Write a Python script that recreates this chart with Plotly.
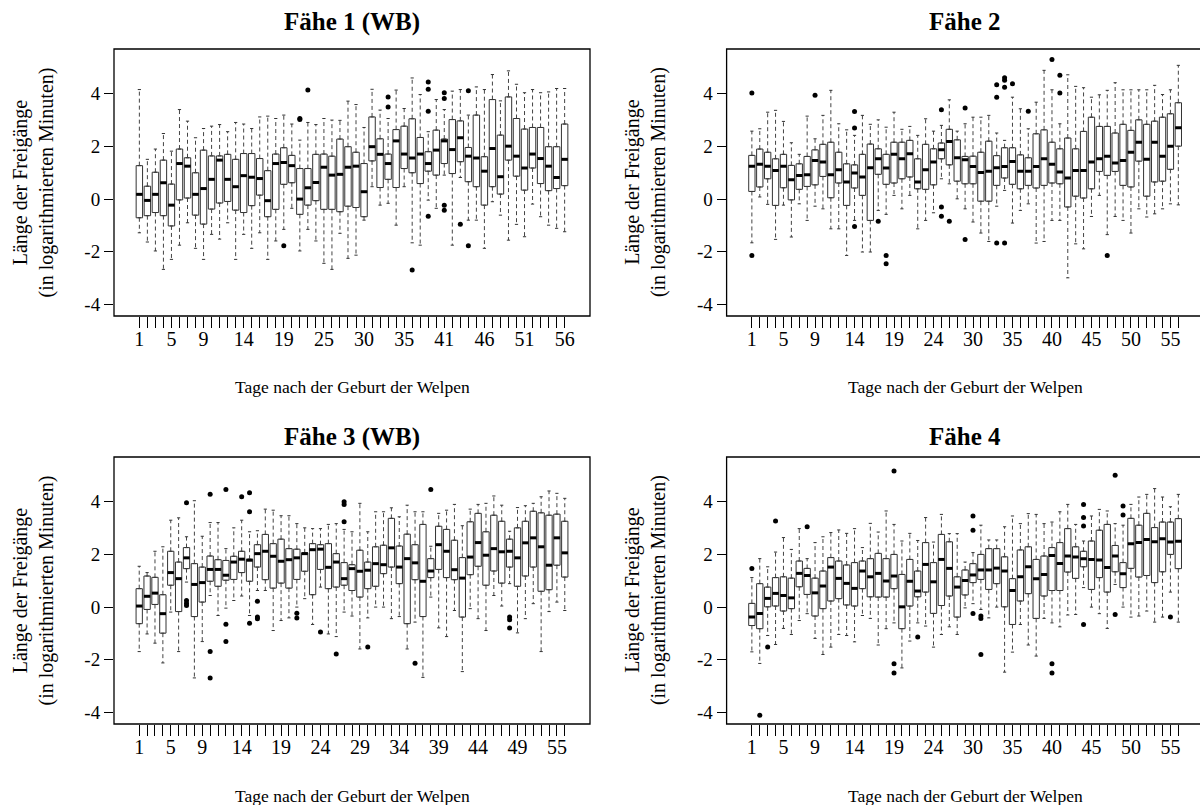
import plotly.graph_objects as go

FONT = "Liberation Serif"

# ---------------- Panel 1: Fähe 1 (WB) ----------------
p1_days = [1, 2, 3, 4, 5, 6, 7, 8, 9, 10, 11, 12, 13, 14, 15, 16, 17, 18, 19, 20, 21, 23, 24, 25, 26, 27, 28,
           29, 30, 31, 32, 33, 34, 35, 36, 37, 39, 40, 41, 42, 43, 44, 45, 46, 47, 48, 49, 50, 51, 52, 53, 54, 55, 56]
p1_hi = [4.16, 1.51, 1.90, 2.49, 1.82, 3.40, 2.96, 2.33, 2.68, 2.77, 2.83, 2.56, 2.91, 2.85, 2.68, 3.12, 3.15, 3.06,
         3.19, 2.85, 2.24, 2.91, 2.83, 3.06, 3.00, 2.99, 3.72, 3.59, 2.72, 4.17, 3.38, 3.06, 4.14, 3.44, 4.60, 3.97,
         2.56, 3.78, 3.40, 4.10, 4.16, 3.19, 4.26, 4.16, 4.73, 3.73, 4.87, 4.36, 4.04, 4.16, 4.04, 4.07, 4.20, 4.20]
p1_q3 = [1.27, 0.49, 1.02, 1.48, 0.57, 1.90, 1.57, 1.00, 1.86, 1.64, 1.64, 1.70, 1.51, 1.73, 1.73, 1.54, 1.08, 1.71,
         1.95, 1.66, 1.16, 1.16, 1.70, 1.71, 1.63, 2.28, 1.99, 1.78, 1.35, 3.12, 2.29, 1.71, 2.64, 2.77, 3.05, 2.34,
         1.80, 2.62, 2.28, 3.02, 2.97, 1.96, 3.19, 1.61, 3.78, 2.43, 3.88, 3.06, 2.66, 2.72, 2.72, 1.99, 1.99, 2.85]
p1_med = [0.18, -0.05, 0.18, 0.62, -0.23, 1.35, 1.25, 0.18, 0.40, 0.75, 1.48, 0.75, 0.47, 0.89, 0.83, 0.78, -0.06, 1.35,
          1.39, 1.27, 0.00, 0.43, 0.63, 1.21, 0.91, 0.94, 1.21, 1.25, 0.28, 1.99, 1.70, 1.35, 2.21, 1.71, 1.56, 1.71,
          1.35, 1.86, 2.21, 1.88, 2.33, 1.63, 1.56, 1.06, 1.92, 0.85, 2.01, 1.63, 1.18, 1.71, 1.54, 1.25, 0.82, 1.51]
p1_q1 = [-0.71, -0.63, -0.51, -0.63, -1.02, -0.03, 0.04, -0.61, -0.95, -0.38, -0.15, -0.09, -0.42, -0.51, -0.25, 0.15,
         -0.67, -0.39, 0.56, 0.62, -0.58, -0.23, -0.06, -0.39, -0.39, -0.48, -0.27, -0.32, -0.67, 1.45, 0.44, 0.75,
         0.44, 1.16, 1.00, 0.59, 1.06, 0.91, 1.35, 0.97, 1.42, 0.66, 0.47, -0.23, 0.47, 0.19, 1.48, 0.87, 0.34, 1.18,
         0.59, 0.32, 0.40, 0.51]
p1_lo = [-1.28, -1.63, -1.97, -2.67, -2.29, -1.75, -0.90, -1.87, -2.29, -1.34, -1.52, -0.90, -2.29, -1.34, -1.87,
         -1.28, -2.29, -1.59, -1.15, -0.35, -1.97, -1.15, -1.59, -2.44, -2.67, -1.30, -2.25, -2.13, -0.80, 0.47, -0.23,
         -0.16, -0.99, 0.47, -1.66, -1.75, -0.04, -0.35, 0.91, -1.75, 0.82, -0.80, -0.80, -1.87, -0.10, -0.61, -1.56,
         -0.96, -1.43, -0.19, -0.67, -0.99, -1.11, -1.24]
p1_out_box = [19, 21, 21, 22, 32, 32, 35, 37, 37, 37, 37, 39, 39, 39, 39, 41, 42, 42]
p1_out_val = [-1.77, 3.06, 3.02, 4.14, 3.88, 3.50, -2.69, 4.45, 4.17, 3.34, -0.65, 4.04, 3.82, -0.23, -0.42, -0.96,
              4.11, -1.77]

# ---------------- Panel 2: Fähe 2 ----------------
p2_days = [1, 2, 3, 4, 5, 6, 7, 8, 9, 10, 11, 12, 13, 14, 15, 16, 17, 18, 19, 20, 21, 22, 23, 24, 25, 26, 28, 29,
           30, 31, 32, 33, 34, 35, 36, 37, 38, 39, 40, 41, 42, 43, 44, 45, 46, 47, 48, 49, 50, 51, 52, 53, 54, 55, 56]
p2_hi = [2.58, 2.67, 3.30, 3.37, 2.95, 2.14, 1.70, 3.15, 2.29, 3.18, 4.13, 2.86, 2.63, 2.42, 3.18, 2.84, 3.01, 2.73,
         3.30, 2.65, 2.76, 2.42, 3.05, 2.58, 2.80, 3.77, 2.58, 2.86, 3.11, 3.11, 3.18, 2.51, 2.23, 3.87, 3.43, 2.67,
         3.68, 4.89, 4.15, 2.86, 4.72, 4.28, 4.23, 3.87, 3.96, 4.13, 4.42, 4.15, 4.15, 4.15, 4.15, 4.32, 3.97, 4.15,
         5.08]
p2_q3 = [1.66, 1.90, 1.78, 1.53, 1.70, 1.28, 1.34, 1.62, 1.87, 2.08, 2.16, 1.78, 1.34, 1.30, 1.70, 2.09, 1.91, 1.70,
         2.16, 2.16, 2.23, 1.53, 2.08, 1.91, 2.13, 2.65, 2.25, 1.62, 1.63, 1.78, 2.20, 1.65, 1.95, 1.95, 1.68, 1.57,
         2.48, 2.63, 2.16, 1.91, 2.32, 1.91, 2.57, 3.11, 2.76, 2.76, 2.51, 2.84, 2.61, 3.01, 2.84, 2.96, 3.11, 3.24,
         3.66]
p2_med = [1.25, 1.32, 1.25, 1.09, 1.25, 0.73, 0.90, 0.92, 1.47, 1.41, 0.92, 1.11, 0.65, 0.99, 0.84, 1.19, 1.53, 1.18,
          1.70, 1.53, 1.72, 0.65, 1.11, 1.41, 1.87, 2.19, 1.57, 1.49, 1.24, 1.01, 1.06, 1.19, 1.24, 1.43, 1.06, 1.06,
          1.24, 1.53, 1.32, 1.03, 0.80, 1.09, 1.09, 1.41, 1.53, 1.63, 1.37, 1.47, 1.78, 2.16, 1.51, 2.16, 1.63, 2.01,
          2.71]
p2_q1 = [0.29, 0.46, 0.77, -0.24, 0.43, -0.03, 0.37, 0.48, 0.54, 0.86, 0.05, 0.61, -0.24, 0.42, 0.14, -0.81, 0.94,
         0.56, 0.61, 0.77, 0.84, 0.39, 0.37, 0.54, 1.53, 1.30, 0.68, 0.58, 0.58, -0.08, -0.08, 0.52, 0.80, 0.56, 0.39,
         0.52, 0.42, 0.52, 0.61, 0.58, -0.30, 0.11, 0.04, 0.39, 1.05, 0.90, 1.05, 0.52, 0.46, 1.44, 0.11, 0.65, 0.68,
         1.13, 2.01]
p2_lo = [-1.66, 0.08, -0.20, -1.53, -0.23, -1.44, -0.18, -0.81, -0.27, -0.37, -1.13, -1.13, -2.14, -0.81, -2.01,
         -2.01, -0.43, -0.58, 0.14, -0.37, 0.14, -1.13, -0.81, -0.52, 0.77, 0.58, 0.01, -0.37, -0.87, -1.29, -1.61,
         -0.27, 0.33, -0.91, -0.43, -0.18, -1.67, -1.61, -0.81, -0.81, -2.99, -1.70, -1.89, -0.66, 0.14, -1.35, -0.66,
         -0.81, -1.29, -0.37, -0.68, -0.56, -0.37, -0.18, -0.22]
p2_out_box = [1, 1, 9, 14, 14, 14, 17, 18, 18, 25, 25, 25, 26, 28, 28, 32, 32, 32, 33, 33, 33, 33, 34, 36, 39, 40, 40,
              46]
p2_out_val = [4.03, -2.14, 3.94, 3.33, 2.70, -1.04, -0.84, -2.14, -2.46, 3.39, -0.30, -0.65, -0.84, 3.46, -1.53, 4.34,
              3.87, -1.67, 4.61, 4.51, 4.25, -1.67, 4.38, 3.34, 5.30, 4.70, 4.03, -2.14]

# ---------------- Panel 3: Fähe 3 (WB) ----------------
p3_days = [1, 2, 3, 4, 5, 6, 7, 8, 9, 10, 11, 12, 13, 14, 15, 16, 17, 18, 19, 20, 21, 22, 23, 24, 25, 26, 27, 28,
           29, 30, 31, 32, 33, 34, 35, 36, 37, 38, 39, 40, 41, 42, 43, 44, 45, 46, 47, 48, 49, 50, 51, 53, 54, 55, 56]
p3_hi = [1.55, 1.31, 2.12, 2.29, 3.30, 3.39, 2.67, 4.04, 2.69, 3.21, 3.21, 2.22, 3.01, 3.30, 2.86, 2.90, 3.72, 3.68,
         3.47, 3.47, 3.17, 3.01, 2.98, 2.98, 3.14, 3.17, 2.95, 2.86, 3.94, 2.86, 3.62, 3.62, 3.77, 3.43, 3.87, 3.62,
         3.62, 2.31, 3.56, 3.68, 3.90, 3.09, 3.72, 3.90, 3.94, 4.22, 3.87, 2.88, 3.78, 3.85, 3.94, 4.19, 4.41, 4.32,
         4.13]
p3_q3 = [0.70, 1.18, 1.13, 0.47, 2.12, 1.71, 2.26, 1.65, 1.52, 1.94, 1.80, 1.77, 1.93, 2.12, 1.82, 2.37, 2.76, 2.41,
         2.58, 2.22, 2.20, 2.06, 2.41, 2.37, 2.41, 2.03, 1.69, 1.61, 2.16, 1.71, 2.29, 2.35, 3.37, 2.32, 2.77, 2.37,
         3.14, 1.84, 3.07, 2.95, 2.54, 1.88, 3.24, 3.56, 2.86, 3.49, 3.26, 2.58, 3.01, 3.26, 3.64, 3.58, 3.49, 3.53,
         3.26]
p3_med = [0.04, 0.41, 0.53, -0.25, 1.31, 1.08, 1.87, 0.86, 0.93, 1.43, 1.43, 1.21, 1.71, 1.82, 1.78, 2.03, 2.12, 1.93,
          1.74, 1.80, 1.87, 2.03, 2.18, 2.20, 1.51, 1.71, 1.08, 1.46, 1.36, 1.40, 1.65, 1.61, 2.25, 1.52, 1.84, 1.68,
          0.98, 1.37, 2.37, 2.12, 1.42, 1.10, 1.90, 2.45, 1.97, 2.22, 2.10, 2.12, 1.87, 2.44, 2.63, 2.29, 1.59, 2.63,
          2.06]
p3_q1 = [-0.63, -0.09, 0.10, -0.99, 0.83, -0.17, 1.46, -0.36, 0.19, 0.98, 0.79, 1.02, 1.05, 1.31, 0.98, 1.52, 1.04,
         0.72, 0.91, 0.72, 1.05, 1.36, 0.47, 1.43, 0.70, 0.76, 0.83, 0.63, 0.38, 0.70, 0.79, 1.27, 1.52, 0.89, -0.63,
         1.04, -0.36, 1.12, 1.43, 1.12, 1.04, -0.38, 1.23, 1.55, 0.83, 1.37, 0.91, 1.52, 0.79, 1.18, 1.52, 0.60, 0.66,
         1.59, 1.14]
p3_lo = [-1.69, -1.02, -1.37, -2.12, -0.19, -1.69, 0.95, -2.69, -1.31, 0.44, -0.32, -0.04, 0.25, 0.42, -0.32, 0.63,
         0.63, -0.89, -0.51, -0.41, 0.00, 0.32, -0.66, 0.76, -1.02, -1.12, -0.19, -0.34, -1.59, -0.41, 0.00, 0.00,
         -0.44, -0.36, -1.59, -0.57, -2.67, 0.38, -0.79, -1.12, -0.13, -2.45, -0.06, -0.44, -0.89, 0.44, 0.04, 0.89,
         -0.98, -0.44, 0.13, -1.69, -0.17, 0.19, -0.13]
p3_out_box = [7, 7, 7, 7, 10, 10, 10, 12, 12, 12, 14, 15, 15, 15, 16, 16, 16, 21, 21, 24, 26, 27, 27, 27, 30, 36, 38,
              48, 48, 48]
p3_out_val = [3.96, 0.25, 0.15, 0.06, 4.29, -1.69, -2.69, 4.47, -0.65, -1.31, 4.19, 4.34, 3.62, -0.61, 0.22, -0.38,
              -0.44, -0.23, -0.41, -0.95, -1.78, 4.00, 3.90, 3.24, -1.52, -2.13, 4.47, -0.38, -0.48, -0.79]

# ---------------- Panel 4: Fähe 4 ----------------
p4_days = [1, 2, 3, 4, 5, 6, 7, 8, 9, 10, 11, 12, 13, 14, 15, 16, 17, 18, 19, 20, 21, 22, 23, 24, 25, 26, 28, 29,
           30, 31, 32, 33, 34, 35, 36, 37, 38, 39, 40, 41, 42, 43, 44, 45, 46, 47, 48, 49, 50, 51, 52, 53, 54, 55, 56]
p4_hi = [1.12, 1.84, 1.53, 2.09, 2.64, 2.19, 2.98, 1.84, 2.45, 2.67, 2.83, 2.93, 2.80, 2.98, 2.26, 3.18, 2.85, 3.65,
         3.14, 2.51, 2.80, 2.53, 3.40, 2.47, 3.52, 2.79, 2.79, 1.71, 2.07, 3.11, 2.55, 2.55, 3.05, 3.46, 3.17, 3.55,
         3.52, 3.17, 3.23, 3.62, 3.90, 3.14, 2.51, 3.46, 3.71, 3.65, 3.17, 3.11, 3.90, 4.18, 4.28, 4.50, 4.18, 3.81,
         4.28]
p4_q3 = [0.14, 0.89, 0.76, 1.12, 1.15, 1.10, 1.75, 1.47, 1.10, 1.37, 1.88, 1.75, 1.60, 1.69, 1.75, 1.84, 2.04, 1.84,
         2.00, 1.24, 1.81, 1.37, 2.45, 1.69, 2.76, 2.48, 1.15, 1.41, 1.65, 2.00, 2.22, 2.22, 1.91, 1.08, 2.17, 2.29,
         1.81, 1.94, 2.26, 2.45, 2.98, 2.29, 2.12, 2.51, 2.92, 3.14, 2.34, 1.69, 3.37, 3.11, 3.56, 3.02, 3.23, 3.23,
         3.36]
p4_med = [-0.38, -0.24, 0.33, 0.52, 0.44, 0.35, 1.28, 1.20, 0.54, 0.80, 1.52, 1.09, 0.90, 0.71, 1.37, 1.15, 1.28, 0.99,
          1.18, 0.01, 0.98, 0.61, 1.62, 0.96, 1.81, 1.47, 0.76, 1.01, 1.22, 1.41, 1.41, 1.48, 1.37, 0.63, 1.15, 1.53,
          1.08, 1.24, 1.96, 1.66, 1.94, 1.90, 1.84, 1.81, 1.79, 1.50, 1.94, 1.27, 2.41, 2.45, 2.57, 2.48, 2.60, 2.47,
          2.50]
p4_q1 = [-0.70, -0.82, 0.01, 0.04, -0.15, -0.06, 0.77, 0.48, -0.34, -0.06, 0.23, 0.32, 0.08, 0.04, 0.70, 0.39, 0.38,
         0.38, 0.70, -0.82, 0.04, 0.39, 0.57, -0.24, 0.06, 0.42, -0.38, 0.46, 0.93, 1.05, 0.67, 0.89, 0.01, -0.66,
         0.23, 0.51, -0.43, 0.42, 0.63, 0.63, 1.33, 1.09, 1.53, 0.67, 1.12, 0.57, 1.34, 0.74, 1.47, 1.14, 1.20, 0.93,
         1.34, 2.00, 1.46]
p4_lo = [-1.70, -2.14, -1.08, -1.42, -0.81, -1.04, -0.51, -0.25, -1.19, -1.80, -1.52, -1.04, -1.08, -1.32, -0.32,
         -0.43, -1.44, -0.82, -0.60, -2.31, -1.29, -0.60, -0.72, -1.52, -1.04, -0.75, -1.04, -0.03, 0.13, -0.09, -0.41,
         0.00, -2.47, -1.71, -0.66, -1.44, -1.86, -0.43, -0.60, -0.75, -0.30, -0.28, 0.74, 0.00, -0.25, -0.81, 0.86,
         0.00, -0.38, -0.34, -0.15, -0.57, -0.38, 0.57, -0.57]
p4_out_box = [1, 2, 3, 4, 8, 19, 19, 19, 22, 29, 29, 29, 30, 30, 30, 39, 39, 43, 43, 43, 43, 47, 47, 48, 48, 54]
p4_out_val = [1.47, -4.11, -1.52, 3.27, 3.05, 5.17, -2.15, -2.50, -1.14, 3.46, 2.92, -0.24, -0.34, -0.43, -1.80,
              -2.15, -2.50, 3.90, 3.40, 3.08, -0.66, 5.01, -0.28, 3.84, 3.50, -0.38]

titles = ["Fähe 1 (WB)", "Fähe 2", "Fähe 3 (WB)", "Fähe 4"]
label_every = [1, 5, 9, 14, 19, 24, 29, 34, 39, 44, 49, 54]   # box numbers whose day is printed
y_ticks = [-4, -2, 0, 2, 4]
y_ticktext = ["-4", "-2", "0", "2", "4"]
x_title = "Tage nach der Geburt der Welpen"
y_title = "Länge der Freigänge<br>(in logarithmierten Minuten)"

panels = [
    (p1_days, p1_lo, p1_q1, p1_med, p1_q3, p1_hi, p1_out_box, p1_out_val),
    (p2_days, p2_lo, p2_q1, p2_med, p2_q3, p2_hi, p2_out_box, p2_out_val),
    (p3_days, p3_lo, p3_q1, p3_med, p3_q3, p3_hi, p3_out_box, p3_out_val),
    (p4_days, p4_lo, p4_q1, p4_med, p4_q3, p4_hi, p4_out_box, p4_out_val),
]

W, H = 1200, 805
# plot-area pixel boxes (left, right, top, bottom)
areas = [(114, 590, 49, 316), (726.6, 1203.6, 49, 316), (114, 590, 457, 724), (726.6, 1203.6, 457, 724)]
title_y = [22, 22, 437, 437]
xtitle_y = [387, 387, 796, 796]
YR = [-4.44, 5.70]

fig = go.Figure()
layout = dict(width=W, height=H, margin=dict(l=0, r=0, t=0, b=0), autosize=False,
              paper_bgcolor="white", plot_bgcolor="white", showlegend=False,
              font=dict(family=FONT, color="black", size=16))
shapes, annotations = [], []

for k, (days, lo, q1, med, q3, hi, ob, ov) in enumerate(panels):
    n = len(days)
    xa = "x" if k == 0 else f"x{k+1}"
    ya = "y" if k == 0 else f"y{k+1}"
    pos = list(range(1, n + 1))
    L, R, T, B = areas[k]
    pad = 0.5 + 0.04 * n
    x0r, x1r = 0.5 - pad, n + 0.5 + pad
    px_per = (R - L) / (x1r - x0r)
    right_px = min(R, W)
    x1v = x0r + (right_px - L) / px_per
    dom_x = [L / W, right_px / W]
    dom_y = [1 - B / H, 1 - T / H]

    # whiskers (dashed)
    wx, wy = [], []
    for p, a, b, c, d in zip(pos, lo, q1, q3, hi):
        wx += [p, p, None, p, p, None]
        wy += [c, d, None, b, a, None]
    fig.add_trace(go.Scatter(x=wx, y=wy, mode="lines", line=dict(color="#444", width=1, dash="4px,3px"),
                             hoverinfo="skip", xaxis=xa, yaxis=ya))
    # staples
    sx, sy = [], []
    for p, a, d in zip(pos, lo, hi):
        sx += [p - 0.2, p + 0.2, None, p - 0.2, p + 0.2, None]
        sy += [d, d, None, a, a, None]
    fig.add_trace(go.Scatter(x=sx, y=sy, mode="lines", line=dict(color="#333", width=1),
                             hoverinfo="skip", xaxis=xa, yaxis=ya))
    # boxes
    fig.add_trace(go.Box(x=pos, q1=q1, median=med, q3=q3, lowerfence=q1, upperfence=q3, width=0.8,
                         fillcolor="white", line=dict(color="#333", width=1), boxpoints=False,
                         hoverinfo="skip", xaxis=xa, yaxis=ya))
    # medians (thick)
    mx, my = [], []
    for p, m in zip(pos, med):
        mx += [p - 0.4, p + 0.4, None]
        my += [m, m, None]
    fig.add_trace(go.Scatter(x=mx, y=my, mode="lines", line=dict(color="black", width=3),
                             hoverinfo="skip", xaxis=xa, yaxis=ya))
    # outliers
    fig.add_trace(go.Scatter(x=ob, y=ov, mode="markers", marker=dict(color="black", size=5),
                             hoverinfo="skip", xaxis=xa, yaxis=ya))

    ticktext = [str(d) if i in label_every else "" for i, d in zip(pos, days)]
    axkey_x = "xaxis" if k == 0 else f"xaxis{k+1}"
    axkey_y = "yaxis" if k == 0 else f"yaxis{k+1}"
    layout[axkey_x] = dict(domain=dom_x, range=[x0r, x1v], anchor=ya, tickmode="array", tickvals=pos,
                           ticktext=ticktext, ticks="outside", ticklen=11, tickwidth=1, tickcolor="black",
                           showgrid=False, zeroline=False, showline=False, ticklabelstandoff=-6,
                           tickfont=dict(family=FONT, size=20, color="black"), fixedrange=True)
    layout[axkey_y] = dict(domain=dom_y, range=YR, anchor=xa, tickmode="array", tickvals=y_ticks,
                           ticktext=y_ticktext, ticks="outside", ticklen=9, tickwidth=1, tickcolor="black",
                           showgrid=False, zeroline=False, showline=False,
                           tickfont=dict(family=FONT, size=19, color="black"), fixedrange=True)
    # frame
    shapes.append(dict(type="rect", xref="paper", yref="paper", x0=L / W, x1=R / W, y0=dom_y[0], y1=dom_y[1],
                       line=dict(color="black", width=1.3), fillcolor="rgba(0,0,0,0)", layer="above"))
    cx = (L + R) / 2 / W
    annotations.append(dict(text="<b>" + titles[k] + "</b>", x=cx, y=1 - title_y[k] / H, xref="paper",
                            yref="paper", showarrow=False, font=dict(family=FONT, size=25, color="black"),
                            xanchor="center", yanchor="middle"))
    annotations.append(dict(text=x_title, x=cx, y=1 - xtitle_y[k] / H, xref="paper", yref="paper",
                            showarrow=False, font=dict(family=FONT, size=17.5, color="black"),
                            xanchor="center", yanchor="middle"))
    annotations.append(dict(text=y_title, x=(L - 81) / W, y=(dom_y[0] + dom_y[1]) / 2, xref="paper",
                            yref="paper", showarrow=False, textangle=-90,
                            font=dict(family=FONT, size=20, color="black"), xanchor="center", yanchor="middle"))

layout["shapes"] = shapes
layout["annotations"] = annotations
fig.update_layout(**layout)
fig.write_html("out.html", config={"displayModeBar": False},
               post_script="document.body.style.margin='0';document.body.style.overflow='hidden';")
